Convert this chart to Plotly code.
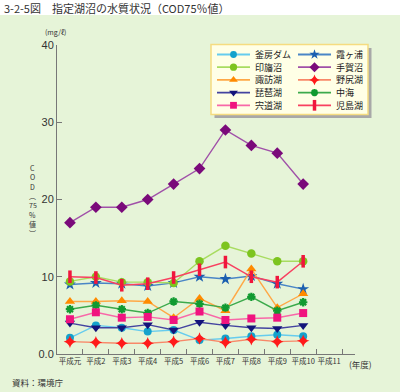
import plotly.graph_objects as go

# ---------------- data ----------------
categories = ["平成元", "平成2", "平成3", "平成4", "平成5", "平成6",
              "平成7", "平成8", "平成9", "平成10", "平成11"]
series_names = ["釜房ダム", "霞ヶ浦", "印旛沼", "手賀沼", "諏訪湖",
                "野尻湖", "琵琶湖", "中海", "宍道湖", "児島湖"]
kamafusa = [2.1, 3.7, 3.4, 2.9, 3.1, 1.8, 2.0, 2.3, 2.5, 2.3]
kasumigaura = [9.0, 9.2, 9.1, 8.8, 9.2, 10.0, 9.7, 10.1, 9.1, 8.4]
inba = [9.4, 10.0, 9.3, 9.3, 9.2, 12.0, 14.0, 13.0, 12.0, 12.0]
teganuma = [17, 19, 19, 20, 22, 24, 29, 27, 26, 22]
suwa = [6.8, 6.8, 6.9, 6.8, 4.7, 7.2, 5.6, 11.0, 6.0, 7.8]
nojiri = [1.6, 1.5, 1.4, 1.4, 1.6, 2.0, 1.5, 1.9, 1.6, 1.7]
biwa = [4.0, 3.4, 3.4, 3.8, 3.1, 4.1, 3.7, 3.4, 3.3, 3.7]
nakaumi = [5.8, 6.3, 5.8, 5.3, 6.8, 6.5, 6.0, 7.4, 5.6, 6.7]
shinji = [4.5, 5.4, 4.7, 4.8, 4.4, 5.5, 4.4, 4.6, 4.7, 5.3]
kojima = [10.0, 9.9, 8.9, 9.1, 9.9, 10.9, 11.9, 10.0, 9.3, 12.0]
y_tickvals = [0, 10, 20, 30, 40]
y_ticktext = ["0.0", "10", "20", "30", "40"]

values = [kamafusa, kasumigaura, inba, teganuma, suwa,
          nojiri, biwa, nakaumi, shinji, kojima]

# ---------------- styles ----------------
line_colors = ["#66CCEE", "#4A86C6", "#A8DC60", "#A050A8", "#FFA846",
               "#F88868", "#4444A0", "#3CAA4C", "#F868A8", "#F84060"]
markers = [
    dict(symbol="circle", size=8, color="#14A2CC"),
    dict(symbol="star", size=9, color="#1A5FB0"),
    dict(symbol="circle", size=8.5, color="#7DC41F"),
    dict(symbol="diamond", size=9, color="#7A0A7A"),
    dict(symbol="triangle-up", size=9, color="#FF8A00"),
    dict(symbol="star-diamond", size=9, color="#FF1A1A"),
    dict(symbol="triangle-down", size=9, color="#14147A"),
    dict(symbol="asterisk-open", size=7, color="#109A30",
         line=dict(color="#109A30", width=2.2)),
    dict(symbol="square", size=8, color="#F0147F"),
    dict(symbol="line-ns-open", size=9, color="#F0163C",
         line=dict(color="#F0163C", width=3.5)),
]

FONT = "Noto Sans CJK JP"
Wfig, Hfig = 400, 392
L, R, T, B = 57, 355, 45, 354
PW, PH = R - L, B - T


def px(x):
    return (x - L) / PW


def py(y):
    return (B - y) / PH


fig = go.Figure()

for name, vals, lc, mk in zip(series_names, values, line_colors, markers):
    fig.add_trace(go.Scatter(
        x=categories[:len(vals)], y=vals, name=name, mode="lines+markers",
        line=dict(color=lc, width=1.4), marker=mk, cliponaxis=False,
        showlegend=False,
    ))

shapes = []
annotations = []

# green background
shapes.append(dict(type="rect", xref="paper", yref="paper", layer="below",
                   x0=px(0), x1=px(Wfig), y0=py(Hfig), y1=py(15),
                   fillcolor="#E6F4D8", line=dict(width=0)))

# manual legend box with shadow (below traces so the sample markers show)
shapes.append(dict(type="rect", xref="paper", yref="paper", layer="below",
                   x0=px(214.5), x1=px(371.5), y0=py(118), y1=py(48),
                   fillcolor="#A8A8A8", line=dict(width=0)))
shapes.append(dict(type="rect", xref="paper", yref="paper", layer="below",
                   x0=px(211), x1=px(368), y0=py(114.5), y1=py(44.5),
                   fillcolor="#FFFFE6", line=dict(color="#F5DC80", width=1.5)))

col_line_x0 = [217, 298]
col_line_x1 = [250, 331]
col_text_x = [254, 335]
row_y0, row_dy = 54.5, 12.7

for i, (name, lc, mk) in enumerate(zip(series_names, line_colors, markers)):
    r, c = divmod(i, 2)
    yy = row_y0 + r * row_dy
    shapes.append(dict(type="line", xref="paper", yref="paper", layer="below",
                       x0=px(col_line_x0[c]), x1=px(col_line_x1[c]),
                       y0=py(yy), y1=py(yy), line=dict(color=lc, width=1.8)))
    leg_mk = dict(mk)
    leg_mk["size"] = mk["size"] * 0.85
    fig.add_trace(go.Scatter(
        x=[(col_line_x0[c] + col_line_x1[c]) / 2], y=[yy], mode="markers",
        marker=leg_mk, xaxis="x2", yaxis="y2", showlegend=False,
        hoverinfo="skip", cliponaxis=False,
    ))
    annotations.append(dict(xref="paper", yref="paper", x=px(col_text_x[c]),
                            y=py(yy), xanchor="left", yanchor="middle",
                            text=name, showarrow=False, borderpad=0,
                            font=dict(family=FONT, size=9, color="#222")))

# title
annotations.append(dict(xref="paper", yref="paper", x=px(2), y=py(7.5),
                        xanchor="left", yanchor="middle", showarrow=False,
                        text="3-2-5図　指定湖沼の水質状況（COD75％値）",
                        font=dict(family=FONT, size=11, color="#333")))
# unit
annotations.append(dict(xref="paper", yref="paper", x=px(55), y=py(32),
                        xanchor="center", yanchor="middle", showarrow=False,
                        text="(mg/ℓ)", font=dict(family=FONT, size=7, color="#333")))
# x-axis unit
annotations.append(dict(xref="paper", yref="paper", x=px(360), y=py(363.5),
                        xanchor="center", yanchor="middle", showarrow=False,
                        text="(年度)", font=dict(family=FONT, size=8.5, color="#333")))
# source
annotations.append(dict(xref="paper", yref="paper", x=px(10), y=py(382),
                        xanchor="left", yanchor="middle", showarrow=False,
                        text="資料：環境庁", font=dict(family=FONT, size=8.5, color="#333")))
# vertical y title (stacked characters)
ytitle_chars = ["C", "O", "D", "︵", "75", "%", "値", "︶"]
for k, ch in enumerate(ytitle_chars):
    annotations.append(dict(xref="paper", yref="paper", x=px(32.5),
                            y=py(168 + 9.3 * k), xanchor="center",
                            yanchor="middle", showarrow=False, text=ch,
                            borderpad=0,
                            font=dict(family=FONT, size=7, color="#333")))

fig.update_layout(
    width=Wfig, height=Hfig,
    margin=dict(l=L, r=Wfig - R, t=T, b=Hfig - B, pad=0),
    paper_bgcolor="white", plot_bgcolor="rgba(0,0,0,0)",
    showlegend=False,
    font=dict(family=FONT, color="#333"),
    xaxis=dict(type="category", categoryorder="array", categoryarray=categories,
               range=[-0.5, 11.0], tickson="boundaries", ticks="inside",
               ticklen=5, tickcolor="#777", showline=True, linecolor="#777",
               linewidth=1, showgrid=False, zeroline=False, tickangle=0,
               tickfont=dict(family=FONT, size=7.5, color="#333")),
    yaxis=dict(range=[0, 40], tickvals=y_tickvals, ticktext=y_ticktext,
               ticks="inside", ticklen=5, tickcolor="#777", showline=True,
               linecolor="#777", linewidth=1, showgrid=False, zeroline=False,
               tickfont=dict(family="Liberation Sans", size=11, color="#333")),
    xaxis2=dict(overlaying="x", range=[L, R], visible=False),
    yaxis2=dict(overlaying="y", range=[B, T], visible=False),
    shapes=shapes, annotations=annotations,
)

fig.write_html(
    "out.html",
    config={"displayModeBar": False},
    post_script="document.body.style.margin='0';document.body.style.overflow='hidden';",
)
